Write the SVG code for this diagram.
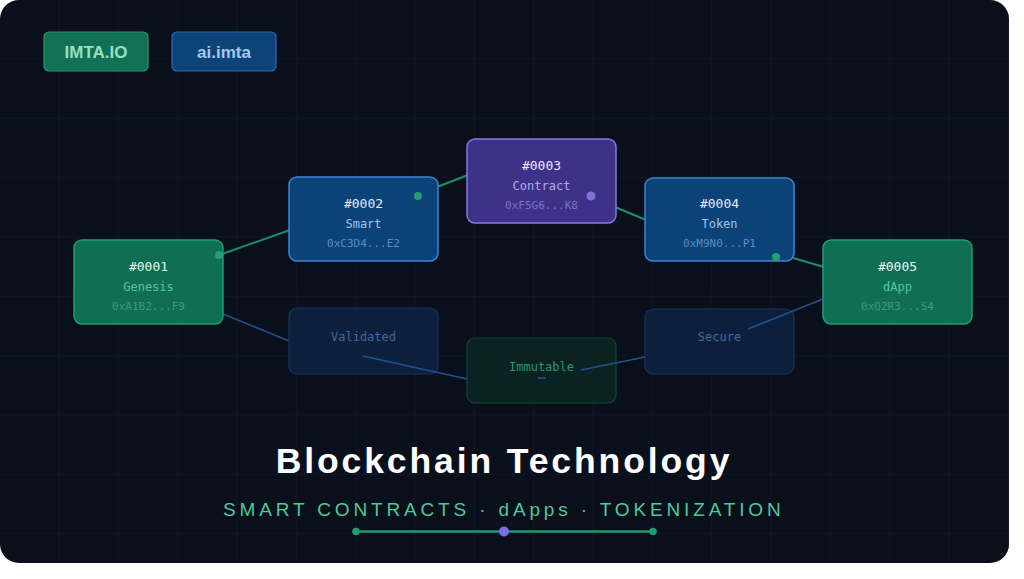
<svg xmlns="http://www.w3.org/2000/svg" width="1024" height="579" viewBox="0 0 1024 579">
<defs>
<pattern id="grid" width="59.35" height="59.35" patternUnits="userSpaceOnUse">
<path d="M59.35 0 V59.35 M0 59.35 H59.35" fill="none" stroke="#141b2e" stroke-width="1"/>
</pattern>
<clipPath id="bgclip"><rect x="0" y="0" width="1009" height="563" rx="19"/></clipPath>
</defs>
<style>
.mono{font-family:"DejaVu Sans Mono","Liberation Mono",monospace;text-anchor:middle}
.id{font-size:13px}
.nm{font-size:12px}
.ad{font-size:11px}
.g-box{fill:#0f6e54;stroke:#1f9d6e;stroke-width:1.5}
.b-box{fill:#0b4378;stroke:#3c84d4;stroke-width:1.5}
.p-box{fill:#3d3188;stroke:#8b76e2;stroke-width:1.5}
.gh-b{fill:#0c1f3d;stroke:#16345c;stroke-width:1.2}
.gh-g{fill:#0a2322;stroke:#134838;stroke-width:1.2}
.c-green{stroke:#1b9068;stroke-width:2;fill:none}
.c-blue{stroke:#22528e;stroke-width:1.5;fill:none}
.badge{font-family:"Liberation Sans",Arial,sans-serif;font-weight:bold;font-size:17px;text-anchor:middle}
</style>
<rect width="1024" height="579" fill="#ffffff"/>
<g clip-path="url(#bgclip)">
<rect x="0" y="0" width="1009" height="563" fill="#0a0f1c"/>
<rect x="0" y="0" width="1009" height="563" fill="url(#grid)"/>
</g>

<g id="badge-imta">
<rect x="44" y="32" width="104" height="39" rx="5" fill="#127054" stroke="#229b6e" stroke-width="1.2"/>
<text class="badge" x="96" y="58" fill="#93e2c2">IMTA.IO</text>
</g>
<g id="badge-ai">
<rect x="172" y="32" width="104" height="39" rx="5" fill="#0c4478" stroke="#2a6ab8" stroke-width="1.2"/>
<text class="badge" x="224" y="58" fill="#a5c8ef">ai.imta</text>
</g>

<g id="connectors">
<line class="c-green" x1="222" y1="254" x2="290" y2="230"/>
<line class="c-green" x1="437" y1="187" x2="468" y2="175"/>
<line class="c-green" x1="615" y1="207" x2="646" y2="220"/>
<line class="c-green" x1="793" y1="258" x2="824" y2="267"/>
<line class="c-blue" x1="223" y1="314" x2="289" y2="341"/>
</g>

<g id="node-0001">
<rect class="g-box" x="74" y="240" width="149" height="84" rx="8"/>
<circle cx="219" cy="255" r="4" fill="#22a070"/>
<text class="mono id" x="148.5" y="271" fill="#e8f5ef">#0001</text>
<text class="mono nm" x="148.5" y="291" fill="#56c79a">Genesis</text>
<text class="mono ad" x="148.5" y="310" fill="#3a9d77">0xA1B2...F9</text>
</g>
<g id="node-0002">
<rect class="b-box" x="289" y="177" width="149" height="84" rx="8"/>
<circle cx="418" cy="196" r="4" fill="#22a06e"/>
<text class="mono id" x="363.5" y="208" fill="#e1ecf8">#0002</text>
<text class="mono nm" x="363.5" y="228" fill="#9ec3ea">Smart</text>
<text class="mono ad" x="363.5" y="247" fill="#5b8cc3">0xC3D4...E2</text>
</g>
<g id="node-0003">
<rect class="p-box" x="467" y="139" width="149" height="84" rx="8"/>
<circle cx="591" cy="196" r="4.5" fill="#8070d8"/>
<text class="mono id" x="541.5" y="170" fill="#eeeaff">#0003</text>
<text class="mono nm" x="541.5" y="190" fill="#b5a8ee">Contract</text>
<text class="mono ad" x="541.5" y="209" fill="#7e71c8">0xF5G6...K8</text>
</g>
<g id="node-0004">
<rect class="b-box" x="645" y="178" width="149" height="83" rx="8"/>
<circle cx="776" cy="257" r="4" fill="#22a06e"/>
<text class="mono id" x="719.5" y="208" fill="#e1ecf8">#0004</text>
<text class="mono nm" x="719.5" y="228" fill="#9ec3ea">Token</text>
<text class="mono ad" x="719.5" y="247" fill="#5b8cc3">0xM9N0...P1</text>
</g>
<g id="node-0005">
<rect class="g-box" x="823" y="240" width="149" height="84" rx="8"/>
<text class="mono id" x="897.5" y="271" fill="#e8f5ef">#0005</text>
<text class="mono nm" x="897.5" y="291" fill="#56c79a">dApp</text>
<text class="mono ad" x="897.5" y="310" fill="#3a9d77">0xQ2R3...S4</text>
</g>
<g id="node-validated">
<rect class="gh-b" x="289" y="308" width="149" height="66" rx="8"/>
<text class="mono nm" x="363.5" y="341" fill="#45689a">Validated</text>
</g>
<g id="node-immutable">
<rect class="gh-g" x="467" y="338" width="149" height="65" rx="8"/>
<text class="mono nm" x="541.5" y="371" fill="#2b9470">Immutable</text>
</g>
<g id="node-secure">
<rect class="gh-b" x="645" y="309" width="149" height="65" rx="8"/>
<text class="mono nm" x="719.5" y="341" fill="#45689a">Secure</text>
</g>

<g id="connectors-over">
<line class="c-blue" x1="363" y1="356" x2="467" y2="379"/>
<line class="c-blue" x1="538" y1="378" x2="546" y2="378"/>
<line class="c-blue" x1="581" y1="370" x2="645" y2="357"/>
<line class="c-blue" x1="748" y1="329" x2="823" y2="299"/>
</g>

<g id="title">
<text x="504" y="473" font-family="Liberation Sans, Arial, sans-serif" font-weight="bold" font-size="35.5" fill="#ffffff" text-anchor="middle" letter-spacing="2.9">Blockchain Technology</text>
<text x="223" y="516" font-family="Liberation Sans, Arial, sans-serif" font-size="19" fill="#4ec99b" letter-spacing="3.85">SMART CONTRACTS · dApps · TOKENIZATION</text>
</g>
<g id="divider">
<line x1="356" y1="531.5" x2="653" y2="531.5" stroke="#1e9a6e" stroke-width="2.5"/>
<circle cx="356" cy="531.5" r="3.8" fill="#1e9a6e"/>
<circle cx="653" cy="531.5" r="3.8" fill="#1e9a6e"/>
<circle cx="504" cy="531.5" r="5" fill="#7c6ee0"/>
</g>
</svg>
